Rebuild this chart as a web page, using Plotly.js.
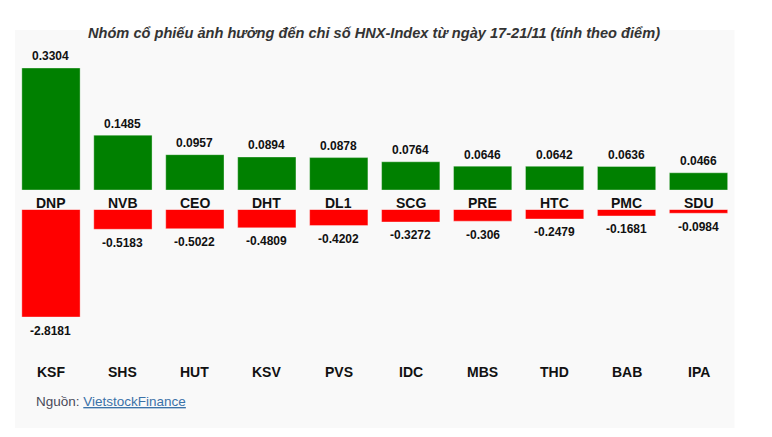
<!DOCTYPE html>
<html>
<head>
<meta charset="utf-8">
<script src="https://cdn.plot.ly/plotly-3.0.1.min.js"></script>
<style>
  html, body { margin: 0; padding: 0; background: #fff; }
  #chart { width: 772px; height: 437px; }
</style>
</head>
<body>
<div id="chart"></div>
<script>
// Top gainers / losers on HNX-Index, 17-21/11 (points)
const upTickers   = ['DNP', 'NVB', 'CEO', 'DHT', 'DL1', 'SCG', 'PRE', 'HTC', 'PMC', 'SDU'];
const upValues    = [0.3304, 0.1485, 0.0957, 0.0894, 0.0878, 0.0764, 0.0646, 0.0642, 0.0636, 0.0466];
const downTickers = ['KSF', 'SHS', 'HUT', 'KSV', 'PVS', 'IDC', 'MBS', 'THD', 'BAB', 'IPA'];
const downValues  = [-2.8181, -0.5183, -0.5022, -0.4809, -0.4202, -0.3272, -0.306, -0.2479, -0.1681, -0.0984];

const W = 772, H = 437;
const COLORS = {
  up:    '#008000',
  down:  '#ff0000',
  panel: '#f9f9f9',
  text:  '#111111',
  title: '#333333',
  muted: '#4a4a5a',
  link:  '#3b72a8',
};
const FONT = 'Liberation Sans, Arial, sans-serif';

// pixel -> paper helpers
const px = x => x / W;
const py = y => 1 - y / H;

const idx = upTickers.map((_, i) => i);

const barTrace = (values, xa, ya, color) => ({
  type: 'bar', x: idx, y: values, xaxis: xa, yaxis: ya,
  marker: { color, line: { color: 'rgba(255,255,255,0.35)', width: 1 } },
  width: 0.81,
  hoverinfo: 'skip',
});

const traces = [
  barTrace(upValues, 'x', 'y', COLORS.up),
  barTrace(downValues, 'x2', 'y2', COLORS.down),
];

const xDomain = [px(15), px(734.5)];
const hiddenX = {
  domain: xDomain, range: [-0.5, upTickers.length - 0.5],
  showgrid: false, zeroline: false, showticklabels: false, ticks: '', fixedrange: true,
};

const tickerNotes = (names, y) => names.map((t, i) => ({
  x: i, xref: 'x', y: py(y), yref: 'paper', xanchor: 'center', yanchor: 'middle',
  text: '<b>' + t + '</b>',
  showarrow: false, font: { family: FONT, size: 14, color: COLORS.text },
}));

// value labels just outside each bar end
const valueNotes = (values, yref, shift) => values.map((v, i) => ({
  x: i, xref: yref === 'y' ? 'x' : 'x2', y: v, yref,
  xanchor: 'center', yanchor: 'middle', yshift: shift,
  text: '<b>' + v + '</b>',
  showarrow: false, font: { family: FONT, size: 12, color: COLORS.text },
}));

const layout = {
  width: W, height: H,
  margin: { t: 0, r: 0, b: 0, l: 0 },
  paper_bgcolor: '#ffffff',
  plot_bgcolor: 'rgba(0,0,0,0)',
  showlegend: false,
  font: { family: FONT, color: COLORS.text },
  bargap: 0,
  xaxis: { ...hiddenX, anchor: 'y' },
  xaxis2: { ...hiddenX, anchor: 'y2', matches: 'x' },
  yaxis: {
    domain: [py(190), py(68)], range: [0, Math.max(...upValues)],
    visible: false, fixedrange: true,
  },
  yaxis2: {
    domain: [py(317), py(209.5)], range: [Math.min(...downValues), 0],
    visible: false, fixedrange: true,
  },
  shapes: [
    // grey card behind the chart
    {
      type: 'rect', xref: 'paper', yref: 'paper', layer: 'below',
      x0: px(15), x1: px(734.5), y0: py(428), y1: py(30),
      fillcolor: COLORS.panel, line: { width: 0 },
    },
  ],
  annotations: [
    {
      xref: 'paper', yref: 'paper', x: px(374), y: py(33),
      xanchor: 'center', yanchor: 'middle',
      text: '<b><i>Nhóm cổ phiếu ảnh hưởng đến chỉ số HNX-Index từ ngày 17-21/11 (tính theo điểm)</i></b>',
      showarrow: false, font: { family: FONT, size: 14.6, color: COLORS.title },
    },
    ...valueNotes(upValues, 'y', 11.5),
    ...valueNotes(downValues, 'y2', -13.5),
    ...tickerNotes(upTickers, 203),
    ...tickerNotes(downTickers, 372),
    {
      xref: 'paper', yref: 'paper', x: px(34), y: py(401),
      xanchor: 'left', yanchor: 'middle',
      text: 'Nguồn: <span style="color:' + COLORS.link + ';text-decoration:underline">VietstockFinance</span>',
      showarrow: false, font: { family: FONT, size: 13.5, color: COLORS.muted },
    },
  ],
};

Plotly.newPlot('chart', traces, layout, { displayModeBar: false, staticPlot: true });
</script>
</body>
</html>
